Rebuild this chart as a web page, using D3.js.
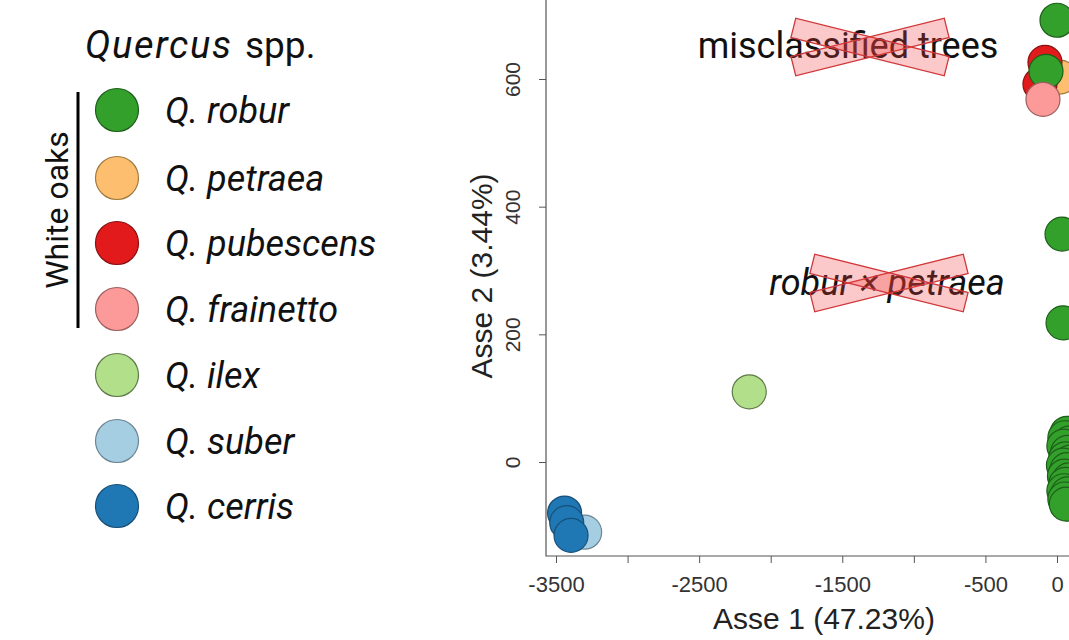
<!DOCTYPE html>
<html lang="en">
<head>
<meta charset="UTF-8">
<title>Quercus PCA</title>
<script src="https://d3js.org/d3.v7.min.js"></script>
<style>
  body { margin: 0; background: #fff; }
  svg { display: block; }
</style>
</head>
<body>
<div id="chart"></div>
<script>
// species legend
var species = ["Q. robur", "Q. petraea", "Q. pubescens", "Q. frainetto", "Q. ilex", "Q. suber", "Q. cerris"];
var fills = ["#33a02c", "#fdbf6f", "#e31a1c", "#fb9a99", "#b2df8a", "#a6cee3", "#1f78b4"];
var strokes = ["#1d5e19", "#a07a3e", "#8a1012", "#9c5f5e", "#5e7a48", "#6b8592", "#174f78"];

// points: [axis1, axis2]
var cerrisPts = [[-3440, -80], [-3425, -95], [-3395, -115]];
var suberPts = [[-3300, -110]];
var ilexPts = [[-2150, 110]];
var misclassPts = [[0, 692], [21, 603], [-84, 626], [-119, 592], [-77, 612], [-98, 568]];
var misclassSp = [0, 1, 2, 2, 0, 3];
var hybridPts = [[35, 357], [42, 218]];
var roburCluster = [[70, 45], [55, 38], [90, 30], [48, 25], [75, 15], [60, 5], [95, 0], [45, -5],
                    [70, -12], [52, -22], [85, -28], [60, -35], [48, -45], [75, -50], [55, -58], [65, -66]];

var xTicks = [-3500, -3000, -2500, -2000, -1500, -1000, -500, 0];
var xLabels = [-3500, -2500, -1500, -500, 0];
var yTicks = [0, 200, 400, 600];

var W = 1069, H = 640;
var svg = d3.select("#chart").append("svg").attr("width", W).attr("height", H);
svg.append("rect").attr("width", W).attr("height", H).attr("fill", "#fff");

var x = d3.scaleLinear().domain([-3500, 0]).range([556, 1057]);
var y = d3.scaleLinear().domain([0, 600]).range([462, 79]);

var frameL = 546, frameB = 556;
var axisFont = "Liberation Sans, Arial, sans-serif";

// data points
var pts = [];
suberPts.forEach(function(p) { pts.push([p[0], p[1], 5]); });
cerrisPts.forEach(function(p) { pts.push([p[0], p[1], 6]); });
ilexPts.forEach(function(p) { pts.push([p[0], p[1], 4]); });
hybridPts.forEach(function(p) { pts.push([p[0], p[1], 0]); });
roburCluster.forEach(function(p) { pts.push([p[0], p[1], 0]); });
misclassPts.forEach(function(p, i) { pts.push([p[0], p[1], misclassSp[i]]); });

svg.append("g").selectAll("circle")
  .data(pts)
  .enter().append("circle")
  .attr("cx", function(d) { return x(d[0]); })
  .attr("cy", function(d) { return y(d[1]); })
  .attr("r", 17)
  .attr("fill", function(d) { return fills[d[2]]; })
  .attr("stroke", function(d) { return strokes[d[2]]; })
  .attr("stroke-width", 1.2);

// frame
svg.append("path")
  .attr("d", "M" + frameL + ",-5V" + frameB + "H" + (W + 5))
  .attr("fill", "none").attr("stroke", "#555").attr("stroke-width", 1.2);

// x axis
var xAxis = svg.append("g")
  .attr("transform", "translate(0," + frameB + ")")
  .call(d3.axisBottom(x).tickValues(xTicks).tickSize(7).tickPadding(13)
    .tickFormat(function(d) { return xLabels.indexOf(d) >= 0 ? d : ""; }));
xAxis.select(".domain").remove();
xAxis.selectAll("line").attr("stroke", "#555");
xAxis.selectAll("text").attr("font-family", axisFont)
  .attr("font-size", 22).attr("fill", "#333");

// y axis
var yAxis = svg.append("g")
  .attr("transform", "translate(" + frameL + ",0)")
  .call(d3.axisLeft(y).tickValues(yTicks).tickSize(7).tickFormat(d3.format("d")));
yAxis.select(".domain").remove();
yAxis.selectAll("line").attr("stroke", "#555");
yAxis.selectAll("text")
  .attr("font-family", axisFont)
  .attr("font-size", 21).attr("fill", "#333")
  .attr("x", null).attr("dy", null)
  .attr("text-anchor", "middle")
  .attr("transform", "translate(-26,0) rotate(-90)");

// axis titles
svg.append("text")
  .attr("x", 824).attr("y", 629)
  .attr("text-anchor", "middle")
  .attr("font-family", axisFont)
  .attr("font-size", 30).attr("fill", "#222")
  .text("Asse 1 (47.23%)");

svg.append("text")
  .attr("transform", "translate(492,276) rotate(-90)")
  .attr("text-anchor", "middle")
  .attr("font-family", axisFont)
  .attr("font-size", 30).attr("fill", "#222")
  .text("Asse 2 (3.44%)");

// crossed-out annotations
function crossedLabel(txt, cx, cy, italic, xx, xy) {
  svg.append("text")
    .attr("x", cx).attr("y", cy)
    .attr("text-anchor", "middle")
    .attr("font-family", "Roboto, sans-serif")
    .attr("font-style", italic ? "italic" : "normal")
    .attr("font-size", 36).attr("fill", "#111")
    .text(txt);
  [-14, 14].forEach(function(a) {
    svg.append("rect")
      .attr("x", -79).attr("y", -10).attr("width", 158).attr("height", 20)
      .attr("transform", "translate(" + xx + "," + xy + ") rotate(" + a + ")")
      .attr("fill", "rgba(240,60,60,0.28)")
      .attr("stroke", "#d0373a").attr("stroke-width", 1.3);
  });
}
crossedLabel("misclassified trees", 848, 58, false, 870, 47);
crossedLabel("robur \u00d7 petraea", 887, 295, true, 889, 283);

// legend
var lg = svg.append("g");
lg.append("text")
  .attr("x", 85).attr("y", 58)
  .attr("font-family", "Roboto, sans-serif")
  .attr("font-style", "italic")
  .attr("font-size", 38).attr("fill", "#111")
  .attr("textLength", 146)
  .text("Quercus");
lg.append("text")
  .attr("x", 245).attr("y", 58)
  .attr("font-family", "Roboto, sans-serif")
  .attr("font-size", 37).attr("fill", "#111")
  .text("spp.");

var legendY = [110, 178, 243, 309, 375, 441, 506];
lg.selectAll("circle")
  .data(species)
  .enter().append("circle")
  .attr("cx", 117)
  .attr("cy", function(d, i) { return legendY[i]; })
  .attr("r", 21.5)
  .attr("fill", function(d, i) { return fills[i]; })
  .attr("stroke", function(d, i) { return strokes[i]; })
  .attr("stroke-width", 1.2);

lg.selectAll("text.sp")
  .data(species)
  .enter().append("text")
  .attr("class", "sp")
  .attr("x", 165)
  .attr("y", function(d, i) { return legendY[i] + 13; })
  .attr("font-family", "Roboto, sans-serif")
  .attr("font-style", "italic")
  .attr("font-size", 36).attr("fill", "#111")
  .text(function(d) { return d; });

lg.append("line")
  .attr("x1", 78).attr("x2", 78).attr("y1", 92).attr("y2", 328)
  .attr("stroke", "#000").attr("stroke-width", 3);

lg.append("text")
  .attr("transform", "translate(68,210) rotate(-90)")
  .attr("text-anchor", "middle")
  .attr("font-family", "Roboto, sans-serif")
  .attr("font-size", 32).attr("fill", "#111")
  .text("White oaks");
</script>
</body>
</html>
